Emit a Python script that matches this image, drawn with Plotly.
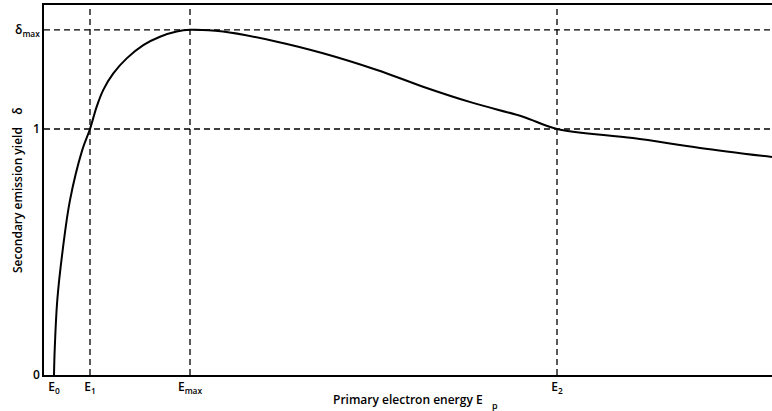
import plotly.graph_objects as go

# Secondary emission yield curve (arbitrary energy units)
energy = [1.0, 1.07, 1.33, 1.87, 2.6, 3.83, 4.6, 5.27, 5.93, 6.93, 8.27, 9.93,
          11.6, 13.27, 14.6, 17.9, 23.3, 27.9, 33.3, 37.9, 42.9, 47.9,
          51.3, 58.9, 65.6, 72.8]
yield_delta = [0.0, 0.102, 0.305, 0.508, 0.711, 0.915, 1.0, 1.091, 1.159, 1.226,
               1.287, 1.341, 1.375, 1.396, 1.403, 1.396, 1.355, 1.308, 1.240,
               1.172, 1.106, 1.050, 1.0, 0.963, 0.923, 0.886]

# Characteristic energies and yields
e_marks = [1.0, 4.6, 14.6, 51.3]
e_labels = ["E<sub>0</sub>", "E<sub>1</sub>", "E<sub>max</sub>", "E<sub>2</sub>"]
d_marks = [0, 1.0, 1.403]
d_labels = ["0", "1", "δ<sub>max</sub>"]

x_range = [0, 72.8]
y_range = [0, 1.504]

FONT = "Open Sans, sans-serif"

fig = go.Figure()
fig.add_trace(go.Scatter(
    x=energy, y=yield_delta, mode="lines",
    line=dict(color="black", width=2, shape="spline", smoothing=1.0),
    hoverinfo="skip", showlegend=False,
))

dash = "6px,4px"
# vertical guides at E1, Emax, E2
for e in e_marks[1:]:
    fig.add_shape(type="line", xref="x", yref="y", x0=e, x1=e,
                  y0=y_range[0], y1=y_range[1],
                  line=dict(color="black", width=1.3, dash=dash))
# horizontal guides at 1 and delta_max
for d in d_marks[1:]:
    fig.add_shape(type="line", xref="x", yref="y", x0=x_range[0], x1=x_range[1],
                  y0=d, y1=d, line=dict(color="black", width=1.3, dash=dash))

fig.update_layout(
    width=772, height=411,
    margin=dict(l=44, r=0, t=5, b=36),
    paper_bgcolor="white", plot_bgcolor="white",
    font=dict(family=FONT, size=11, color="black", weight=600),
    xaxis=dict(range=x_range, tickmode="array", tickvals=e_marks, ticktext=e_labels,
               showgrid=False, zeroline=False, showline=True, linecolor="black",
               linewidth=1.5, mirror=True, ticks="",
               tickfont=dict(size=12, weight=600)),
    yaxis=dict(range=y_range, tickmode="array", tickvals=d_marks, ticktext=d_labels,
               showgrid=False, zeroline=False, showline=True, linecolor="black",
               linewidth=1.5, ticks="",
               tickfont=dict(size=12, weight=600)),
    annotations=[
        dict(text="Primary electron energy E", xref="paper", yref="paper",
             x=0.5, y=0, yshift=-14, xanchor="center", yanchor="top",
             showarrow=False, font=dict(size=12, weight=600)),
        dict(text="p", xref="paper", yref="paper",
             x=(495 - 44) / 728, y=0, yshift=-22, xanchor="center", yanchor="top",
             showarrow=False, font=dict(size=9, weight=600)),
        dict(text="Secondary emission yield    δ", xref="paper", yref="paper",
             x=0, xshift=-27, y=0.5, xanchor="center", yanchor="middle",
             textangle=-90, showarrow=False, font=dict(size=12, weight=600)),
    ],
)

fig.write_html("out.html")
